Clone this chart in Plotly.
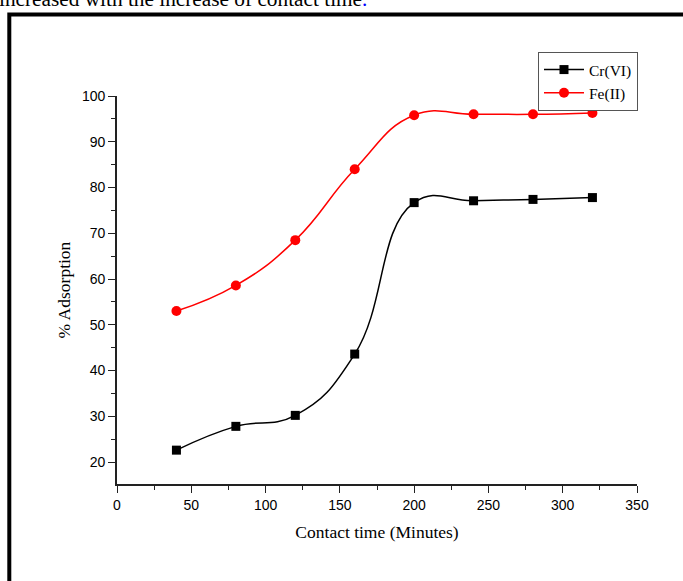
import plotly.graph_objects as go

time_min = [40, 80, 120, 160, 200, 240, 280, 320]
cr_vi = [22.6, 27.8, 30.2, 43.6, 76.7, 77.1, 77.4, 77.8]
fe_ii = [53.0, 58.6, 68.5, 84.0, 95.8, 96.0, 96.0, 96.3]

fig = go.Figure()
fig.add_trace(go.Scatter(
    x=time_min, y=cr_vi, name="Cr(VI)", mode="lines+markers",
    line=dict(color="black", width=1.5, shape="spline", smoothing=1.3),
    marker=dict(symbol="square", size=9, color="black"),
))
fig.add_trace(go.Scatter(
    x=time_min, y=fe_ii, name="Fe(II)", mode="lines+markers",
    line=dict(color="red", width=1.5, shape="spline", smoothing=1.3),
    marker=dict(symbol="circle", size=10, color="red"),
))

L, R, T, B = 117, 46, 96, 97
W, H = 683, 581
pw, ph = W - L - R, H - T - B

def px(x):
    return (x - L) / pw

def py(y):
    return (H - B - y) / ph

axis_common = dict(
    showline=True, linecolor="#222222", linewidth=1.8, mirror=False,
    ticks="outside", ticklen=7, tickwidth=1.2, tickcolor="#222222",
    showgrid=False, zeroline=False,
    tickfont=dict(family="Liberation Sans, Arial", size=14, color="black"),
)

title_font = dict(family="Liberation Serif, Times New Roman", size=17.5, color="black")

fig.update_layout(
    width=W, height=H,
    margin=dict(l=L, r=R, t=T, b=B),
    paper_bgcolor="white", plot_bgcolor="white",
    xaxis=dict(
        range=[0, 350], tick0=0, dtick=50,
        minor=dict(ticks="outside", ticklen=4, dtick=25, tick0=0, tickcolor="#222222"),
        title=dict(text="Contact time (Minutes)", font=title_font, standoff=14),
        **axis_common,
    ),
    yaxis=dict(
        range=[15.2, 100], tick0=0, dtick=10,
        minor=dict(ticks="outside", ticklen=4, dtick=5, tick0=0, tickcolor="#222222"),
        title=dict(text="% Adsorption", font=title_font, standoff=7),
        **axis_common,
    ),
    legend=dict(
        x=px(538), y=py(52), xanchor="left", yanchor="top",
        bordercolor="#555555", borderwidth=1, bgcolor="white",
        font=dict(family="Liberation Serif, Times New Roman", size=15.5, color="black"),
        tracegroupgap=0, itemwidth=40,
    ),
    showlegend=True,
)

fig.add_shape(
    type="rect", xref="paper", yref="paper",
    x0=px(9.3), x1=px(700), y0=py(600), y1=py(14.5),
    line=dict(color="black", width=4), fillcolor="rgba(0,0,0,0)", layer="above",
)

fig.add_annotation(
    xref="paper", yref="paper", x=px(-3), y=py(13), xanchor="left", yanchor="bottom",
    text="increased with the increase of contact time<span style='color:blue'>.</span>",
    showarrow=False,
    font=dict(family="Liberation Serif, Times New Roman", size=21.3, color="black"),
)

fig.write_html("out.html", config={"displayModeBar": False},
               post_script="document.body.style.margin='0';")
